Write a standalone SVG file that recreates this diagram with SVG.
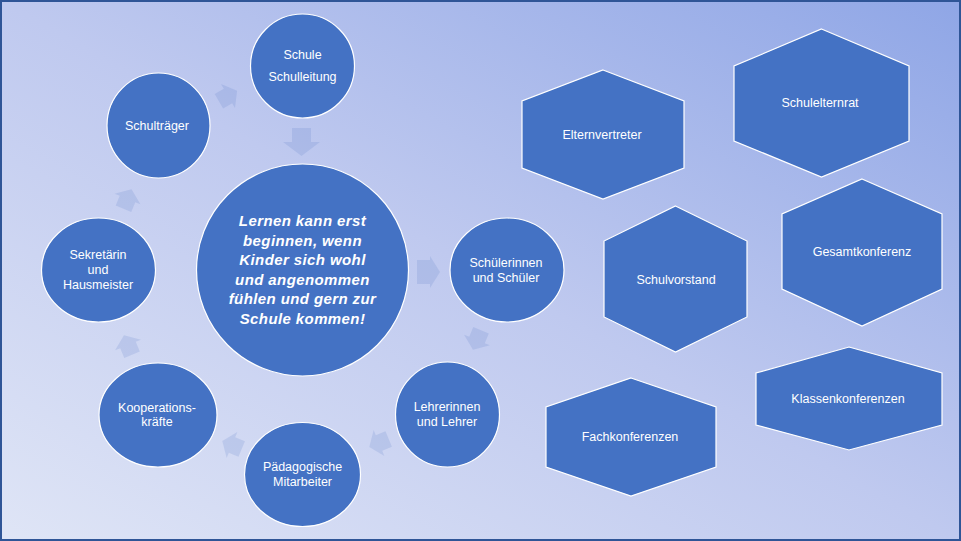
<svg xmlns="http://www.w3.org/2000/svg" width="961" height="541" viewBox="0 0 961 541">
<defs>
<linearGradient id="bg" x1="0" y1="1" x2="1" y2="0">
<stop offset="0" stop-color="#dfe5f6"/>
<stop offset="0.5" stop-color="#bfc9ef"/>
<stop offset="1" stop-color="#8fa6e6"/>
</linearGradient>
<path id="arr" d="M -10.5,-8.4 H 0 V -14 L 10.5,0 L 0,14 V 8.4 H -10.5 Z"/>
</defs>
<style>
.n{fill:#4472c4;stroke:#ffffff;stroke-width:1.2}
.t{font-family:"Liberation Sans",Arial,sans-serif;font-size:12.5px;fill:#ffffff;text-anchor:middle}
.c{font-family:"Liberation Sans",Arial,sans-serif;font-size:15px;font-weight:bold;font-style:italic;fill:#ffffff;text-anchor:middle;letter-spacing:0.4px}
.a{fill:#5577c4;fill-opacity:0.17}
</style>
<rect x="0" y="0" width="961" height="541" fill="url(#bg)"/>
<rect x="1" y="1" width="959" height="539" fill="none" stroke="#2f5597" stroke-width="2"/>

<g id="connectors">
<use href="#arr" class="a" transform="translate(228,96) rotate(-30)"/>
<path class="a" d="M 292,128 H 311 V 142 H 320 L 301.5,156 L 283,142 H 292 Z"/>
<path class="a" d="M 417,260 H 430 V 256 L 440,272 L 430,288 V 284 H 417 Z"/>
<use href="#arr" class="a" transform="translate(477,340) rotate(112.5)"/>
<use href="#arr" class="a" transform="translate(379,443) rotate(157.5)"/>
<use href="#arr" class="a" transform="translate(232,445) rotate(202.5)"/>
<use href="#arr" class="a" transform="translate(128,345) rotate(247.5)"/>
<use href="#arr" class="a" transform="translate(127.5,199) rotate(292.5)"/>
</g>

<g id="center">
<circle class="n" cx="302.5" cy="270" r="106"/>
<text class="c" x="302.5" y="226">Lernen kann erst</text>
<text class="c" x="302.5" y="246">beginnen, wenn</text>
<text class="c" x="302.5" y="265">Kinder sich wohl</text>
<text class="c" x="302.5" y="285">und angenommen</text>
<text class="c" x="302.5" y="304">fühlen und gern zur</text>
<text class="c" x="302.5" y="324">Schule kommen!</text>
</g>

<g id="schule">
<ellipse class="n" cx="302.5" cy="66" rx="52" ry="52"/>
<text class="t" x="302.5" y="58.5">Schule</text>
<text class="t" x="302.5" y="80.5">Schulleitung</text>
</g>

<g id="schulerinnen">
<ellipse class="n" cx="507" cy="270" rx="57" ry="52"/>
<text class="t" x="506" y="267">Schülerinnen</text>
<text class="t" x="506" y="282">und Schüler</text>
</g>

<g id="lehrerinnen">
<ellipse class="n" cx="447.5" cy="414.5" rx="52" ry="52.5"/>
<text class="t" x="447" y="411">Lehrerinnen</text>
<text class="t" x="447" y="426">und Lehrer</text>
</g>

<g id="paedagogische">
<ellipse class="n" cx="302.5" cy="474.5" rx="58" ry="52"/>
<text class="t" x="302.5" y="471">Pädagogische</text>
<text class="t" x="302.5" y="486">Mitarbeiter</text>
</g>

<g id="kooperation">
<ellipse class="n" cx="158" cy="415" rx="59" ry="52"/>
<text class="t" x="157" y="411.5">Kooperations-</text>
<text class="t" x="157" y="425.5">kräfte</text>
</g>

<g id="sekretaerin">
<ellipse class="n" cx="98.5" cy="270" rx="57" ry="52"/>
<text class="t" x="98" y="259">Sekretärin</text>
<text class="t" x="98" y="274">und</text>
<text class="t" x="98" y="289">Hausmeister</text>
</g>

<g id="schultraeger">
<ellipse class="n" cx="158.5" cy="125.5" rx="51.5" ry="52.5"/>
<text class="t" x="157" y="130">Schulträger</text>
</g>

<g id="elternvertreter">
<polygon class="n" points="603,70 684,101 684,168 603,199 522,168 522,101"/>
<text class="t" x="602" y="138.5">Elternvertreter</text>
</g>

<g id="schulelternrat">
<polygon class="n" points="821.5,29 909,66 909,141 821.5,177 734,141 734,66"/>
<text class="t" x="820" y="106.5">Schulelternrat</text>
</g>

<g id="schulvorstand">
<polygon class="n" points="675.5,206 747,241 747,317 675.5,352 604,317 604,241"/>
<text class="t" x="676" y="283.5">Schulvorstand</text>
</g>

<g id="gesamtkonferenz">
<polygon class="n" points="862,179 942,214 942,289 862,326 782,289 782,214"/>
<text class="t" x="862" y="255.5">Gesamtkonferenz</text>
</g>

<g id="fachkonferenzen">
<polygon class="n" points="631,378 716,407 716,467 631,496 546,467 546,407"/>
<text class="t" x="630" y="441">Fachkonferenzen</text>
</g>

<g id="klassenkonferenzen">
<polygon class="n" points="849,347 942,373 942,425 849,450 756,425 756,373"/>
<text class="t" x="848" y="402.5">Klassenkonferenzen</text>
</g>
</svg>
